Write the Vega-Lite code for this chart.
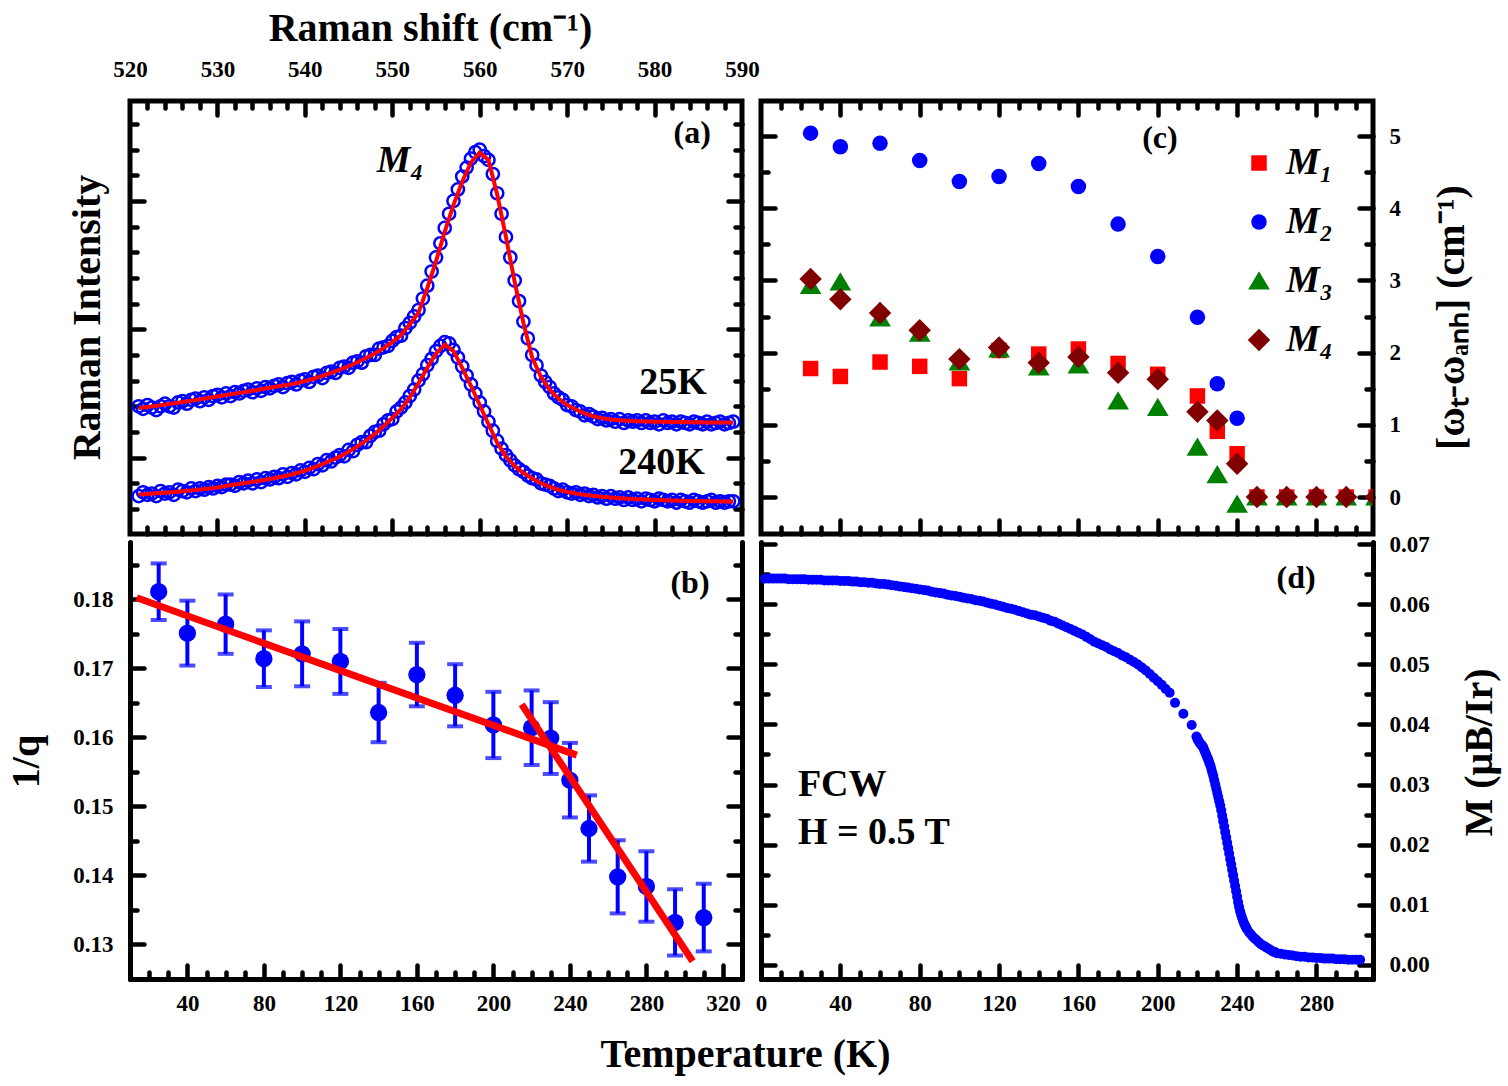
{
"$schema": "https://vega.github.io/schema/vega-lite/v6.json",
"background": "white",
"padding": {"left": 6, "top": 5, "right": 5, "bottom": 5},
"config": {
  "font": "Liberation Serif",
  "view": {"stroke": "black", "strokeWidth": 5},
  "axis": {"grid": false, "labelFont": "Liberation Serif", "labelFontWeight": "bold", "labelFontSize": 23, "labelColor": "black",
           "titleFont": "Liberation Serif", "titleFontWeight": "bold", "titleFontSize": 40, "titleColor": "black",
           "tickColor": "black", "tickWidth": 4.5, "tickCap": "round", "domainColor": "black", "domainWidth": 5, "domainCap": "round"},
  "text": {"font": "Liberation Serif", "fontWeight": "bold", "color": "black"}
},
"datasets": {
  "spec": [
{"s":521.0,"a":1.40,"b":0.70},{"s":521.5,"a":1.38,"b":0.73},{"s":522.0,"a":1.41,"b":0.71},{"s":522.5,"a":1.39,"b":0.72},
{"s":523.0,"a":1.37,"b":0.70},{"s":523.5,"a":1.40,"b":0.74},{"s":524.0,"a":1.42,"b":0.72},{"s":524.5,"a":1.40,"b":0.73},
{"s":525.0,"a":1.39,"b":0.71},{"s":525.5,"a":1.43,"b":0.75},{"s":526.0,"a":1.44,"b":0.74},{"s":526.5,"a":1.42,"b":0.73},
{"s":527.0,"a":1.45,"b":0.76},{"s":527.5,"a":1.46,"b":0.74},{"s":528.0,"a":1.44,"b":0.76},{"s":528.5,"a":1.47,"b":0.75},
{"s":529.0,"a":1.45,"b":0.77},{"s":529.5,"a":1.48,"b":0.76},{"s":530.0,"a":1.49,"b":0.78},{"s":530.5,"a":1.47,"b":0.77},
{"s":531.0,"a":1.50,"b":0.79},{"s":531.5,"a":1.48,"b":0.79},{"s":532.0,"a":1.51,"b":0.78},{"s":532.5,"a":1.50,"b":0.81},
{"s":533.0,"a":1.52,"b":0.80},{"s":533.5,"a":1.53,"b":0.82},{"s":534.0,"a":1.51,"b":0.80},{"s":534.5,"a":1.54,"b":0.83},
{"s":535.0,"a":1.52,"b":0.81},{"s":535.5,"a":1.55,"b":0.84},{"s":536.0,"a":1.54,"b":0.83},{"s":536.5,"a":1.56,"b":0.85},
{"s":537.0,"a":1.57,"b":0.84},{"s":537.5,"a":1.55,"b":0.87},{"s":538.0,"a":1.58,"b":0.85},{"s":538.5,"a":1.59,"b":0.88},
{"s":539.0,"a":1.57,"b":0.87},{"s":539.5,"a":1.60,"b":0.90},{"s":540.0,"a":1.61,"b":0.89},{"s":540.5,"a":1.59,"b":0.92},
{"s":541.0,"a":1.63,"b":0.91},{"s":541.5,"a":1.64,"b":0.95},{"s":542.0,"a":1.62,"b":0.94},{"s":542.5,"a":1.66,"b":0.98},
{"s":543.0,"a":1.67,"b":0.97},{"s":543.5,"a":1.66,"b":1.00},{"s":544.0,"a":1.70,"b":1.02},{"s":544.5,"a":1.71,"b":1.01},
{"s":545.0,"a":1.70,"b":1.06},{"s":545.5,"a":1.74,"b":1.05},{"s":546.0,"a":1.75,"b":1.10},{"s":546.5,"a":1.74,"b":1.12},
{"s":547.0,"a":1.79,"b":1.12},{"s":547.5,"a":1.80,"b":1.17},{"s":548.0,"a":1.80,"b":1.20},{"s":548.5,"a":1.85,"b":1.21},
{"s":549.0,"a":1.86,"b":1.26},{"s":549.5,"a":1.87,"b":1.29},{"s":550.0,"a":1.91,"b":1.30},{"s":550.5,"a":1.94,"b":1.36},
{"s":551.0,"a":1.95,"b":1.39},{"s":551.5,"a":2.01,"b":1.43},{"s":552.0,"a":2.05,"b":1.48},{"s":552.5,"a":2.10,"b":1.53},
{"s":553.0,"a":2.15,"b":1.60},{"s":553.5,"a":2.24,"b":1.65},{"s":554.0,"a":2.34,"b":1.72},{"s":554.5,"a":2.45,"b":1.77},
{"s":555.0,"a":2.56,"b":1.83},{"s":555.5,"a":2.67,"b":1.87},{"s":556.0,"a":2.79,"b":1.90},{"s":556.5,"a":2.90,"b":1.89},
{"s":557.0,"a":3.00,"b":1.84},{"s":557.5,"a":3.09,"b":1.78},{"s":558.0,"a":3.19,"b":1.71},{"s":558.5,"a":3.26,"b":1.64},
{"s":559.0,"a":3.33,"b":1.57},{"s":559.5,"a":3.38,"b":1.50},{"s":560.0,"a":3.40,"b":1.43},{"s":560.5,"a":3.35,"b":1.36},
{"s":561.0,"a":3.32,"b":1.28},{"s":561.5,"a":3.21,"b":1.21},{"s":562.0,"a":3.06,"b":1.13},{"s":562.5,"a":2.90,"b":1.07},
{"s":563.0,"a":2.72,"b":1.02},{"s":563.5,"a":2.56,"b":0.98},{"s":564.0,"a":2.38,"b":0.94},{"s":564.5,"a":2.22,"b":0.91},
{"s":565.0,"a":2.06,"b":0.89},{"s":565.5,"a":1.93,"b":0.86},{"s":566.0,"a":1.80,"b":0.84},{"s":566.5,"a":1.72,"b":0.83},
{"s":567.0,"a":1.64,"b":0.80},{"s":567.5,"a":1.59,"b":0.79},{"s":568.0,"a":1.55,"b":0.78},{"s":568.5,"a":1.50,"b":0.76},
{"s":569.0,"a":1.47,"b":0.74},{"s":569.5,"a":1.45,"b":0.75},{"s":570.0,"a":1.41,"b":0.73},{"s":570.5,"a":1.40,"b":0.72},
{"s":571.0,"a":1.37,"b":0.73},{"s":571.5,"a":1.36,"b":0.71},{"s":572.0,"a":1.33,"b":0.72},{"s":572.5,"a":1.34,"b":0.70},
{"s":573.0,"a":1.32,"b":0.71},{"s":573.5,"a":1.30,"b":0.69},{"s":574.0,"a":1.31,"b":0.70},{"s":574.5,"a":1.29,"b":0.68},
{"s":575.0,"a":1.30,"b":0.70},{"s":575.5,"a":1.28,"b":0.68},{"s":576.0,"a":1.30,"b":0.69},{"s":576.5,"a":1.27,"b":0.67},
{"s":577.0,"a":1.29,"b":0.69},{"s":577.5,"a":1.28,"b":0.67},{"s":578.0,"a":1.29,"b":0.68},{"s":578.5,"a":1.27,"b":0.66},
{"s":579.0,"a":1.29,"b":0.68},{"s":579.5,"a":1.27,"b":0.67},{"s":580.0,"a":1.28,"b":0.66},{"s":580.5,"a":1.26,"b":0.68},
{"s":581.0,"a":1.29,"b":0.67},{"s":581.5,"a":1.27,"b":0.66},{"s":582.0,"a":1.28,"b":0.67},{"s":582.5,"a":1.26,"b":0.65},
{"s":583.0,"a":1.28,"b":0.67},{"s":583.5,"a":1.27,"b":0.66},{"s":584.0,"a":1.26,"b":0.65},{"s":584.5,"a":1.28,"b":0.67},
{"s":585.0,"a":1.27,"b":0.66},{"s":585.5,"a":1.26,"b":0.65},{"s":586.0,"a":1.28,"b":0.66},{"s":586.5,"a":1.26,"b":0.67},
{"s":587.0,"a":1.27,"b":0.65},{"s":587.5,"a":1.28,"b":0.66},{"s":588.0,"a":1.26,"b":0.65},{"s":588.5,"a":1.27,"b":0.66},
{"s":589.0,"a":1.28,"b":0.66}
  ],
  "fit": [
{"s":521,"fa":1.386,"fb":0.712},{"s":522,"fa":1.395,"fb":0.717},{"s":523,"fa":1.404,"fb":0.722},{"s":524,"fa":1.413,"fb":0.727},
{"s":525,"fa":1.423,"fb":0.732},{"s":526,"fa":1.433,"fb":0.738},{"s":527,"fa":1.443,"fb":0.745},{"s":528,"fa":1.454,"fb":0.752},
{"s":529,"fa":1.466,"fb":0.760},{"s":530,"fa":1.477,"fb":0.768},{"s":531,"fa":1.488,"fb":0.780},{"s":532,"fa":1.499,"fb":0.790},
{"s":533,"fa":1.510,"fb":0.800},{"s":534,"fa":1.521,"fb":0.811},{"s":535,"fa":1.533,"fb":0.822},{"s":536,"fa":1.545,"fb":0.834},
{"s":537,"fa":1.556,"fb":0.847},{"s":538,"fa":1.567,"fb":0.861},{"s":539,"fa":1.580,"fb":0.878},{"s":540,"fa":1.596,"fb":0.898},
{"s":541,"fa":1.615,"fb":0.922},{"s":542,"fa":1.637,"fb":0.950},{"s":543,"fa":1.660,"fb":0.978},{"s":544,"fa":1.685,"fb":1.008},
{"s":545,"fa":1.713,"fb":1.045},{"s":546,"fa":1.743,"fb":1.088},{"s":547,"fa":1.776,"fb":1.132},{"s":548,"fa":1.812,"fb":1.185},
{"s":549,"fa":1.853,"fb":1.245},{"s":550,"fa":1.900,"fb":1.310},{"s":551,"fa":1.955,"fb":1.378},{"s":552,"fa":2.040,"fb":1.470},
{"s":553,"fa":2.130,"fb":1.580},{"s":554,"fa":2.320,"fb":1.700},{"s":555,"fa":2.530,"fb":1.810},{"s":556,"fa":2.760,"fb":1.880},
{"s":557,"fa":2.970,"fb":1.830},{"s":558,"fa":3.150,"fb":1.700},{"s":559,"fa":3.300,"fb":1.560},{"s":560,"fa":3.378,"fb":1.410},
{"s":561,"fa":3.320,"fb":1.260},{"s":562,"fa":3.050,"fb":1.115},{"s":563,"fa":2.720,"fb":1.010},{"s":564,"fa":2.370,"fb":0.935},
{"s":565,"fa":2.050,"fb":0.880},{"s":566,"fa":1.780,"fb":0.838},{"s":567,"fa":1.630,"fb":0.800},{"s":568,"fa":1.530,"fb":0.772},
{"s":569,"fa":1.460,"fb":0.750},{"s":570,"fa":1.410,"fb":0.733},{"s":571,"fa":1.375,"fb":0.720},{"s":572,"fa":1.345,"fb":0.710},
{"s":573,"fa":1.322,"fb":0.702},{"s":574,"fa":1.308,"fb":0.695},{"s":575,"fa":1.298,"fb":0.689},{"s":576,"fa":1.292,"fb":0.684},
{"s":577,"fa":1.287,"fb":0.680},{"s":578,"fa":1.284,"fb":0.676},{"s":579,"fa":1.282,"fb":0.673},{"s":580,"fa":1.280,"fb":0.670},
{"s":581,"fa":1.279,"fb":0.668},{"s":582,"fa":1.278,"fb":0.666},{"s":583,"fa":1.277,"fb":0.664},{"s":584,"fa":1.276,"fb":0.663},
{"s":585,"fa":1.275,"fb":0.662},{"s":586,"fa":1.274,"fb":0.661},{"s":587,"fa":1.274,"fb":0.660},{"s":588,"fa":1.273,"fb":0.659},
{"s":589,"fa":1.273,"fb":0.658}
  ],
  "q": [
{"T":25,"q":0.1811,"lo":0.1770,"hi":0.1852},{"T":40,"q":0.1751,"lo":0.1704,"hi":0.1798},
{"T":60,"q":0.1764,"lo":0.1721,"hi":0.1807},{"T":80,"q":0.1714,"lo":0.1673,"hi":0.1755},
{"T":100,"q":0.1721,"lo":0.1674,"hi":0.1768},{"T":120,"q":0.1710,"lo":0.1663,"hi":0.1757},
{"T":140,"q":0.1636,"lo":0.1593,"hi":0.1679},{"T":160,"q":0.1691,"lo":0.1645,"hi":0.1737},
{"T":180,"q":0.1661,"lo":0.1616,"hi":0.1706},{"T":200,"q":0.1618,"lo":0.1570,"hi":0.1666},
{"T":220,"q":0.1614,"lo":0.1560,"hi":0.1668},{"T":230,"q":0.1599,"lo":0.1547,"hi":0.1651},
{"T":240,"q":0.1538,"lo":0.1484,"hi":0.1592},{"T":250,"q":0.1468,"lo":0.1420,"hi":0.1516},
{"T":265,"q":0.1398,"lo":0.1345,"hi":0.1451},{"T":280,"q":0.1384,"lo":0.1333,"hi":0.1435},
{"T":295,"q":0.1332,"lo":0.1284,"hi":0.1380},{"T":310,"q":0.1339,"lo":0.1290,"hi":0.1388}
  ],
  "qfit": [
{"seg":"low","T":13.5,"q":0.18023},{"seg":"low","T":243.6,"q":0.15743},
{"seg":"high","T":214.8,"q":0.16478},{"seg":"high","T":304.2,"q":0.12758}
  ],
  "omega": [
{"T":25,"mode":"M₁","v":1.78},{"T":40,"mode":"M₁","v":1.67},{"T":60,"mode":"M₁","v":1.87},{"T":80,"mode":"M₁","v":1.81},
{"T":100,"mode":"M₁","v":1.64},{"T":120,"mode":"M₁","v":2.03},{"T":140,"mode":"M₁","v":1.98},{"T":160,"mode":"M₁","v":2.05},
{"T":180,"mode":"M₁","v":1.85},{"T":200,"mode":"M₁","v":1.70},{"T":220,"mode":"M₁","v":1.40},{"T":230,"mode":"M₁","v":0.91},
{"T":240,"mode":"M₁","v":0.60},{"T":250,"mode":"M₁","v":0},{"T":265,"mode":"M₁","v":0},{"T":280,"mode":"M₁","v":0},
{"T":295,"mode":"M₁","v":0},{"T":310,"mode":"M₁","v":0},
{"T":25,"mode":"M₂","v":5.04},{"T":40,"mode":"M₂","v":4.85},{"T":60,"mode":"M₂","v":4.90},{"T":80,"mode":"M₂","v":4.66},
{"T":100,"mode":"M₂","v":4.37},{"T":120,"mode":"M₂","v":4.44},{"T":140,"mode":"M₂","v":4.62},{"T":160,"mode":"M₂","v":4.30},
{"T":180,"mode":"M₂","v":3.78},{"T":200,"mode":"M₂","v":3.33},{"T":220,"mode":"M₂","v":2.49},{"T":230,"mode":"M₂","v":1.57},
{"T":240,"mode":"M₂","v":1.09},{"T":250,"mode":"M₂","v":0},{"T":265,"mode":"M₂","v":0},{"T":280,"mode":"M₂","v":0},
{"T":295,"mode":"M₂","v":0},{"T":310,"mode":"M₂","v":0},
{"T":25,"mode":"M₃","v":2.93},{"T":40,"mode":"M₃","v":2.98},{"T":60,"mode":"M₃","v":2.48},{"T":80,"mode":"M₃","v":2.27},
{"T":100,"mode":"M₃","v":1.87},{"T":120,"mode":"M₃","v":2.05},{"T":140,"mode":"M₃","v":1.80},{"T":160,"mode":"M₃","v":1.83},
{"T":180,"mode":"M₃","v":1.33},{"T":200,"mode":"M₃","v":1.24},{"T":220,"mode":"M₃","v":0.69},{"T":230,"mode":"M₃","v":0.31},
{"T":240,"mode":"M₃","v":-0.10},{"T":250,"mode":"M₃","v":0},{"T":265,"mode":"M₃","v":0},{"T":280,"mode":"M₃","v":0},
{"T":295,"mode":"M₃","v":0},{"T":310,"mode":"M₃","v":0},
{"T":25,"mode":"M₄","v":3.02},{"T":40,"mode":"M₄","v":2.74},{"T":60,"mode":"M₄","v":2.55},{"T":80,"mode":"M₄","v":2.31},
{"T":100,"mode":"M₄","v":1.91},{"T":120,"mode":"M₄","v":2.07},{"T":140,"mode":"M₄","v":1.86},{"T":160,"mode":"M₄","v":1.94},
{"T":180,"mode":"M₄","v":1.72},{"T":200,"mode":"M₄","v":1.63},{"T":220,"mode":"M₄","v":1.18},{"T":230,"mode":"M₄","v":1.06},
{"T":240,"mode":"M₄","v":0.46},{"T":250,"mode":"M₄","v":0},{"T":265,"mode":"M₄","v":0},{"T":280,"mode":"M₄","v":0},
{"T":295,"mode":"M₄","v":0},{"T":310,"mode":"M₄","v":0}
  ],
  "mag": [
{"T":2,"M":0.0643},{"T":4,"M":0.0643},{"T":6,"M":0.0643},{"T":8,"M":0.0643},{"T":10,"M":0.0643},{"T":12,"M":0.0643},
{"T":14,"M":0.0642},{"T":16,"M":0.0642},{"T":18,"M":0.0642},{"T":20,"M":0.0642},{"T":22,"M":0.0642},{"T":24,"M":0.0641},
{"T":26,"M":0.0641},{"T":28,"M":0.0641},{"T":30,"M":0.0641},{"T":32,"M":0.0640},{"T":34,"M":0.0640},{"T":36,"M":0.0640},
{"T":38,"M":0.0640},{"T":40,"M":0.0639},{"T":42,"M":0.0639},{"T":44,"M":0.0639},{"T":46,"M":0.0638},{"T":48,"M":0.0638},
{"T":50,"M":0.0637},{"T":52,"M":0.0637},{"T":54,"M":0.0636},{"T":56,"M":0.0636},{"T":58,"M":0.0635},{"T":60,"M":0.0634},
{"T":62,"M":0.0634},{"T":64,"M":0.0633},{"T":66,"M":0.0632},{"T":68,"M":0.0631},{"T":70,"M":0.0630},{"T":72,"M":0.0629},
{"T":74,"M":0.0628},{"T":76,"M":0.0627},{"T":78,"M":0.0626},{"T":80,"M":0.0625},{"T":82,"M":0.0624},{"T":84,"M":0.0623},
{"T":86,"M":0.0621},{"T":88,"M":0.0620},{"T":90,"M":0.0619},{"T":92,"M":0.0618},{"T":94,"M":0.0616},{"T":96,"M":0.0615},
{"T":98,"M":0.0614},{"T":100,"M":0.0613},{"T":102,"M":0.0611},{"T":104,"M":0.0610},{"T":106,"M":0.0609},{"T":108,"M":0.0607},
{"T":110,"M":0.0606},{"T":112,"M":0.0605},{"T":114,"M":0.0603},{"T":116,"M":0.0601},{"T":118,"M":0.0600},{"T":120,"M":0.0598},
{"T":122,"M":0.0596},{"T":124,"M":0.0594},{"T":126,"M":0.0593},{"T":128,"M":0.0591},{"T":130,"M":0.0589},{"T":132,"M":0.0587},
{"T":134,"M":0.0585},{"T":136,"M":0.0583},{"T":138,"M":0.0582},{"T":140,"M":0.0580},{"T":142,"M":0.0578},{"T":144,"M":0.0576},
{"T":146,"M":0.0573},{"T":148,"M":0.0571},{"T":150,"M":0.0568},{"T":152,"M":0.0565},{"T":154,"M":0.0562},{"T":156,"M":0.0559},
{"T":158,"M":0.0556},{"T":160,"M":0.0553},{"T":162,"M":0.0550},{"T":164,"M":0.0546},{"T":166,"M":0.0542},{"T":168,"M":0.0538},
{"T":170,"M":0.0535},{"T":172,"M":0.0532},{"T":174,"M":0.0529},{"T":176,"M":0.0525},{"T":178,"M":0.0522},{"T":180,"M":0.0519},
{"T":182,"M":0.0515},{"T":184,"M":0.0512},{"T":186,"M":0.0508},{"T":188,"M":0.0504},{"T":190,"M":0.0500},{"T":192,"M":0.0495},
{"T":194,"M":0.0490},{"T":196,"M":0.0484},{"T":198,"M":0.0478},{"T":200,"M":0.0472},{"T":202,"M":0.0466},{"T":204,"M":0.0459},
{"T":206,"M":0.0453},{"T":208.7,"M":0.0436},{"T":212.9,"M":0.0418},{"T":217.1,"M":0.0399},
{"T":219.5,"M":0.0380},{"T":220,"M":0.0376},{"T":220.5,"M":0.0373},{"T":221,"M":0.0370},{"T":221.5,"M":0.0368},{"T":222,"M":0.0366},
{"T":222.5,"M":0.0364},{"T":223,"M":0.0361},{"T":223.5,"M":0.0357},{"T":224,"M":0.0353},{"T":224.5,"M":0.0349},{"T":225,"M":0.0345},
{"T":225.5,"M":0.0341},{"T":226,"M":0.0336},{"T":226.5,"M":0.0332},{"T":227,"M":0.0326},{"T":227.5,"M":0.0320},{"T":228,"M":0.0314},
{"T":228.5,"M":0.0307},{"T":229,"M":0.0300},{"T":229.5,"M":0.0293},{"T":230,"M":0.0286},{"T":230.5,"M":0.0279},{"T":231,"M":0.0272},
{"T":231.5,"M":0.0265},{"T":232,"M":0.0257},{"T":232.5,"M":0.0248},{"T":233,"M":0.0239},{"T":233.5,"M":0.0230},{"T":234,"M":0.0221},
{"T":234.5,"M":0.0212},{"T":235,"M":0.0203},{"T":235.5,"M":0.0194},{"T":236,"M":0.0185},{"T":236.5,"M":0.0176},{"T":237,"M":0.0167},
{"T":237.5,"M":0.0158},{"T":238,"M":0.0149},{"T":238.5,"M":0.0140},{"T":239,"M":0.0131},{"T":239.5,"M":0.0122},{"T":240,"M":0.0113},
{"T":240.5,"M":0.0104},{"T":241,"M":0.0096},{"T":241.5,"M":0.0089},{"T":242,"M":0.0083},{"T":242.5,"M":0.0078},{"T":243,"M":0.0073},
{"T":243.5,"M":0.0069},{"T":244,"M":0.0065},{"T":244.5,"M":0.0062},{"T":245,"M":0.0059},{"T":246,"M":0.0054},{"T":247,"M":0.0050},
{"T":248,"M":0.0046},{"T":249,"M":0.0043},{"T":250,"M":0.0040},{"T":251,"M":0.0037},{"T":252,"M":0.0034},{"T":253,"M":0.0032},
{"T":254,"M":0.0030},{"T":255,"M":0.0028},{"T":256,"M":0.0026},{"T":257,"M":0.0024},{"T":258,"M":0.0022},{"T":259,"M":0.0021},
{"T":260,"M":0.0019},{"T":262,"M":0.0018},{"T":264,"M":0.0017},{"T":266,"M":0.0016},{"T":268,"M":0.0015},{"T":270,"M":0.0014},
{"T":272,"M":0.0013},{"T":274,"M":0.0013},{"T":276,"M":0.0012},{"T":278,"M":0.0012},{"T":280,"M":0.0011},{"T":282,"M":0.0011},
{"T":284,"M":0.0010},{"T":286,"M":0.0010},{"T":288,"M":0.0010},{"T":290,"M":0.0009},{"T":292,"M":0.0009},{"T":294,"M":0.0009},
{"T":296,"M":0.0008},{"T":298,"M":0.0008},{"T":300,"M":0.0008},{"T":302,"M":0.0008}
  ]
},
"columns": 2,
"spacing": {"row": 8, "column": 19},
"bounds": "flush",
"align": "each",
"concat": [
 {
  "width": 612, "height": 433,
  "view": {"stroke": "black", "strokeWidth": 5},
  "resolve": {"axis": {"x": "independent", "y": "independent"}},
  "layer": [
   {
    "data": {"name": "spec"},
    "transform": [{"fold": ["a", "b"], "as": ["temp", "I"]}],
    "mark": {"type": "point", "filled": false, "color": "#0000ff", "strokeWidth": 2.5, "size": 150, "opacity": 1},
    "encoding": {
      "x": {"field": "s", "type": "quantitative", "scale": {"domain": [520, 590], "nice": false, "zero": false},
            "axis": {"orient": "top", "values": [520,530,540,550,560,570,580,590], "ticks": false, "domain": false, "labelPadding": 20,
                     "labelFlush": false, "labelOverlap": false, "title": "Raman shift (cm⁻¹)", "titleX": 300, "titleY": -73,
                     "titleAngle": 0, "titleAlign": "center", "titleBaseline": "middle"}},
      "y": {"field": "I", "type": "quantitative", "scale": {"domain": [0.405, 3.779], "nice": false, "zero": false},
            "axis": {"orient": "left", "values": [0.6,0.8,1,1.2,1.4,1.6,1.8,2,2.2,2.4,2.6,2.8,3,3.2,3.4,3.6], "labels": false, "domain": false,
                     "tickSize": {"condition": {"test": "abs(datum.value - round(datum.value)) < 0.01", "value": -14}, "value": -7},
                     "title": "Raman Intensity", "titleX": -43, "titleY": 216, "titleAngle": 270, "titleAlign": "center", "titleBaseline": "middle"}}
    }
   },
   {
    "data": {"name": "fit"},
    "transform": [{"fold": ["fa", "fb"], "as": ["temp", "I"]}],
    "mark": {"type": "line", "color": "#ff0000", "strokeWidth": 4},
    "encoding": {
      "x": {"field": "s", "type": "quantitative", "scale": {"domain": [520, 590], "nice": false, "zero": false},
            "axis": {"orient": "bottom", "values": [522,524,526,528,530,532,534,536,538,540,542,544,546,548,550,552,554,556,558,560,562,564,566,568,570,572,574,576,578,580,582,584,586,588],
                     "labels": false, "domain": false, "title": null,
                     "tickSize": {"condition": {"test": "datum.value % 10 === 0", "value": -14}, "value": -7}}},
      "y": {"field": "I", "type": "quantitative", "scale": {"domain": [0.405, 3.779], "nice": false, "zero": false},
            "axis": {"orient": "right", "values": [0.6,0.8,1,1.2,1.4,1.6,1.8,2,2.2,2.4,2.6,2.8,3,3.2,3.4,3.6], "labels": false, "domain": false, "title": null,
                     "tickSize": {"condition": {"test": "abs(datum.value - round(datum.value)) < 0.01", "value": -14}, "value": -7}}},
      "detail": {"field": "temp", "type": "nominal"}
    }
   },
   {
    "data": {"values": [{"s": 584.3, "I": 3.53, "t": "(a)"}]},
    "mark": {"type": "text", "fontSize": 32, "align": "center", "baseline": "middle"},
    "encoding": {
      "x": {"field": "s", "type": "quantitative", "scale": {"domain": [520, 590], "nice": false, "zero": false},
            "axis": {"orient": "top", "values": [522,524,526,528,530,532,534,536,538,540,542,544,546,548,550,552,554,556,558,560,562,564,566,568,570,572,574,576,578,580,582,584,586,588],
                     "labels": false, "domain": false, "title": null,
                     "tickSize": {"condition": {"test": "datum.value % 10 === 0", "value": -14}, "value": -7}}},
      "y": {"field": "I", "type": "quantitative", "scale": {"domain": [0.405, 3.779], "nice": false, "zero": false}, "axis": null},
      "text": {"field": "t"}
    }
   },
   {
    "data": {"values": [{"s": 582.1, "I": 1.58, "t": "25K"}, {"s": 580.8, "I": 0.96, "t": "240K"}]},
    "mark": {"type": "text", "fontSize": 38, "align": "center", "baseline": "middle"},
    "encoding": {
      "x": {"field": "s", "type": "quantitative", "axis": null},
      "y": {"field": "I", "type": "quantitative", "axis": null},
      "text": {"field": "t"}
    }
   },
   {
    "data": {"values": [{"s": 550.9, "I": 3.31, "t": "M₄"}]},
    "mark": {"type": "text", "fontSize": 38, "fontStyle": "italic", "align": "center", "baseline": "middle"},
    "encoding": {
      "x": {"field": "s", "type": "quantitative", "axis": null},
      "y": {"field": "I", "type": "quantitative", "axis": null},
      "text": {"field": "t"}
    }
   }
  ]
 },
 {
  "width": 612, "height": 433,
  "view": {"stroke": "black", "strokeWidth": 5},
  "resolve": {"axis": {"x": "independent", "y": "independent"}},
  "layer": [
   {
    "data": {"name": "omega"},
    "mark": {"type": "point", "filled": true, "opacity": 1, "size": 240, "clip": true},
    "encoding": {
      "x": {"field": "T", "type": "quantitative", "scale": {"domain": [0, 308.5], "nice": false, "zero": false},
            "axis": {"orient": "top", "values": [10,20,30,40,50,60,70,80,90,100,110,120,130,140,150,160,170,180,190,200,210,220,230,240,250,260,270,280,290,300],
                     "labels": false, "domain": false, "title": null,
                     "tickSize": {"condition": {"test": "datum.value % 40 === 0", "value": -14}, "value": -7}}},
      "y": {"field": "v", "type": "quantitative", "scale": {"domain": [-0.512, 5.485], "nice": false, "zero": false},
            "axis": {"orient": "left", "values": [0,0.5,1,1.5,2,2.5,3,3.5,4,4.5,5], "labels": false, "domain": false, "title": null,
                     "tickSize": {"condition": {"test": "abs(datum.value - round(datum.value)) < 0.01", "value": -14}, "value": -7}}},
      "color": {"field": "mode", "type": "nominal", "scale": {"domain": ["M₁","M₂","M₃","M₄"], "range": ["#ff0000","#0000ff","#008000","#800000"]},
                "legend": {"orient": "none", "legendX": 1110, "legendY": 43, "title": null, "labelFont": "Liberation Serif", "labelFontStyle": "italic",
                           "labelFontWeight": "bold", "labelFontSize": 38, "labelColor": "black", "symbolSize": 240, "rowPadding": 21, "labelOffset": 8, "padding": 0}},
      "shape": {"field": "mode", "type": "nominal",
                "scale": {"domain": ["M₁","M₂","M₃","M₄"], "range": ["square","circle","M0,-1.25L1.4,1.1L-1.4,1.1Z","M0,-1.45L1.45,0L0,1.45L-1.45,0Z"]},
                "legend": {"orient": "none", "legendX": 1110, "legendY": 43, "title": null, "labelFont": "Liberation Serif", "labelFontStyle": "italic",
                           "labelFontWeight": "bold", "labelFontSize": 38, "labelColor": "black", "symbolSize": 240, "rowPadding": 21, "labelOffset": 8, "padding": 0}}
    }
   },
   {
    "data": {"values": [{"T": 201.1, "v": 4.97, "t": "(c)"}]},
    "mark": {"type": "text", "fontSize": 32, "align": "center", "baseline": "middle"},
    "encoding": {
      "x": {"field": "T", "type": "quantitative", "scale": {"domain": [0, 308.5], "nice": false, "zero": false},
            "axis": {"orient": "bottom", "values": [10,20,30,40,50,60,70,80,90,100,110,120,130,140,150,160,170,180,190,200,210,220,230,240,250,260,270,280,290,300],
                     "labels": false, "domain": false, "title": null,
                     "tickSize": {"condition": {"test": "datum.value % 40 === 0", "value": -14}, "value": -7}}},
      "y": {"field": "v", "type": "quantitative", "scale": {"domain": [-0.512, 5.485], "nice": false, "zero": false},
            "axis": {"orient": "right", "values": [0,1,2,3,4,5], "format": "d", "ticks": false, "domain": false, "labelPadding": 16,
                     "title": "[ωₜ-ωₐₙₕ] (cm⁻¹)", "titleX": 78, "titleY": 216, "titleAngle": 270, "titleAlign": "center", "titleBaseline": "middle"}},
      "text": {"field": "t"}
    }
   },
   {
    "data": {"name": "omega"},
    "mark": {"type": "rule", "opacity": 0},
    "encoding": {
      "y": {"field": "v", "type": "quantitative", "scale": {"domain": [-0.512, 5.485], "nice": false, "zero": false},
            "axis": {"orient": "right", "values": [0,0.5,1,1.5,2,2.5,3,3.5,4,4.5,5], "labels": false, "domain": false, "title": null,
                     "tickSize": {"condition": {"test": "abs(datum.value - round(datum.value)) < 0.01", "value": -14}, "value": -7}}}
    }
   }
  ]
 },
 {
  "width": 612, "height": 437,
  "view": {"stroke": null},
  "resolve": {"axis": {"x": "independent", "y": "independent"}},
  "layer": [
   {
    "data": {"name": "q"},
    "mark": {"type": "rule", "color": "#0000ff", "strokeWidth": 4},
    "encoding": {
      "x": {"field": "T", "type": "quantitative", "scale": {"domain": [10, 330], "nice": false, "zero": false},
            "axis": {"orient": "bottom", "values": [40,80,120,160,200,240,280,320], "ticks": false, "domain": false, "labelPadding": 13,
                     "labelFlush": false, "labelOverlap": false,
                     "title": "Temperature (K)", "titleX": 615, "titleY": 75, "titleAngle": 0, "titleAlign": "center", "titleBaseline": "middle", "titleFontSize": 40}},
      "y": {"field": "lo", "type": "quantitative", "scale": {"domain": [0.125, 0.1883], "nice": false, "zero": false},
            "axis": {"orient": "left", "values": [0.13,0.14,0.15,0.16,0.17,0.18], "format": ".2f", "ticks": false, "domain": false, "labelPadding": 17,
                     "title": "1/q", "titleX": -104, "titleY": 219, "titleAngle": 270, "titleAlign": "center", "titleBaseline": "middle"}},
      "y2": {"field": "hi"}
    }
   },
   {
    "data": {"name": "q"},
    "mark": {"type": "tick", "orient": "horizontal", "color": "#0000ff", "size": 16, "thickness": 4},
    "encoding": {
      "x": {"field": "T", "type": "quantitative", "scale": {"domain": [10, 330], "nice": false, "zero": false},
            "axis": {"orient": "bottom", "values": [20,30,40,50,60,70,80,90,100,110,120,130,140,150,160,170,180,190,200,210,220,230,240,250,260,270,280,290,300,310,320],
                     "labels": false, "domain": true, "title": null,
                     "tickSize": {"condition": {"test": "datum.value % 40 === 0", "value": -14}, "value": -7}}},
      "y": {"field": "lo", "type": "quantitative", "scale": {"domain": [0.125, 0.1883], "nice": false, "zero": false},
            "axis": {"orient": "left", "values": [0.13,0.135,0.14,0.145,0.15,0.155,0.16,0.165,0.17,0.175,0.18,0.185], "labels": false, "domain": true, "title": null,
                     "tickSize": {"condition": {"test": "abs(datum.value * 100 - round(datum.value * 100)) < 0.01", "value": -14}, "value": -7}}}
    }
   },
   {
    "data": {"name": "q"},
    "mark": {"type": "tick", "orient": "horizontal", "color": "#0000ff", "size": 16, "thickness": 4},
    "encoding": {
      "x": {"field": "T", "type": "quantitative", "axis": null},
      "y": {"field": "hi", "type": "quantitative", "scale": {"domain": [0.125, 0.1883], "nice": false, "zero": false},
            "axis": {"orient": "right", "values": [0.13,0.135,0.14,0.145,0.15,0.155,0.16,0.165,0.17,0.175,0.18,0.185], "labels": false, "domain": true, "title": null,
                     "tickSize": {"condition": {"test": "abs(datum.value * 100 - round(datum.value * 100)) < 0.01", "value": -14}, "value": -7}}}
    }
   },
   {
    "data": {"name": "q"},
    "mark": {"type": "circle", "color": "#0000ff", "size": 300, "opacity": 1},
    "encoding": {
      "x": {"field": "T", "type": "quantitative", "axis": null},
      "y": {"field": "q", "type": "quantitative", "axis": null}
    }
   },
   {
    "data": {"name": "qfit"},
    "mark": {"type": "line", "color": "#ff0000", "strokeWidth": 7, "strokeCap": "butt"},
    "encoding": {
      "x": {"field": "T", "type": "quantitative", "axis": null},
      "y": {"field": "q", "type": "quantitative", "axis": null},
      "detail": {"field": "seg", "type": "nominal"}
    }
   },
   {
    "data": {"values": [{"T": 302.8, "q": 0.1824, "t": "(b)"}]},
    "mark": {"type": "text", "fontSize": 32, "align": "center", "baseline": "middle"},
    "encoding": {
      "x": {"field": "T", "type": "quantitative", "axis": null},
      "y": {"field": "q", "type": "quantitative", "axis": null},
      "text": {"field": "t"}
    }
   }
  ]
 },
 {
  "width": 612, "height": 437,
  "view": {"stroke": null},
  "resolve": {"axis": {"x": "independent", "y": "independent"}},
  "layer": [
   {
    "data": {"name": "mag"},
    "mark": {"type": "circle", "color": "#0000ff", "size": 100, "opacity": 1},
    "encoding": {
      "x": {"field": "T", "type": "quantitative", "scale": {"domain": [0, 308.5], "nice": false, "zero": false},
            "axis": {"orient": "bottom", "values": [0,40,80,120,160,200,240,280], "ticks": false, "domain": false, "labelPadding": 13,
                     "labelFlush": false, "labelOverlap": false, "title": null}},
      "y": {"field": "M", "type": "quantitative", "scale": {"domain": [-0.0024, 0.0704], "nice": false, "zero": false},
            "axis": {"orient": "right", "values": [0,0.01,0.02,0.03,0.04,0.05,0.06,0.07], "format": ".2f", "ticks": false, "domain": false, "labelPadding": 16,
                     "title": "M (μB/Ir)", "titleX": 106, "titleY": 210, "titleAngle": 270, "titleAlign": "center", "titleBaseline": "middle"}}
    }
   },
   {
    "data": {"values": [{"T": 269.7, "M": 0.0644, "t": "(d)"}]},
    "mark": {"type": "text", "fontSize": 32, "align": "center", "baseline": "middle"},
    "encoding": {
      "x": {"field": "T", "type": "quantitative", "scale": {"domain": [0, 308.5], "nice": false, "zero": false},
            "axis": {"orient": "bottom", "values": [10,20,30,40,50,60,70,80,90,100,110,120,130,140,150,160,170,180,190,200,210,220,230,240,250,260,270,280,290,300],
                     "labels": false, "domain": true, "title": null,
                     "tickSize": {"condition": {"test": "datum.value % 40 === 0", "value": -14}, "value": -7}}},
      "y": {"field": "M", "type": "quantitative", "scale": {"domain": [-0.0024, 0.0704], "nice": false, "zero": false},
            "axis": {"orient": "left", "values": [0,0.005,0.01,0.015,0.02,0.025,0.03,0.035,0.04,0.045,0.05,0.055,0.06,0.065,0.07], "labels": false, "domain": true, "title": null,
                     "tickSize": {"condition": {"test": "abs(datum.value * 100 - round(datum.value * 100)) < 0.01", "value": -14}, "value": -7}}},
      "text": {"field": "t"}
    }
   },
   {
    "data": {"values": [{"T": 18.6, "M": 0.0300, "t": "FCW"}, {"T": 18.6, "M": 0.0219, "t": "H = 0.5 T"}]},
    "mark": {"type": "text", "fontSize": 38, "align": "left", "baseline": "middle"},
    "encoding": {
      "x": {"field": "T", "type": "quantitative", "axis": null},
      "y": {"field": "M", "type": "quantitative", "scale": {"domain": [-0.0024, 0.0704], "nice": false, "zero": false},
            "axis": {"orient": "right", "values": [0,0.005,0.01,0.015,0.02,0.025,0.03,0.035,0.04,0.045,0.05,0.055,0.06,0.065,0.07], "labels": false, "domain": true, "title": null,
                     "tickSize": {"condition": {"test": "abs(datum.value * 100 - round(datum.value * 100)) < 0.01", "value": -14}, "value": -7}}},
      "text": {"field": "t"}
    }
   }
  ]
 }
]
}
